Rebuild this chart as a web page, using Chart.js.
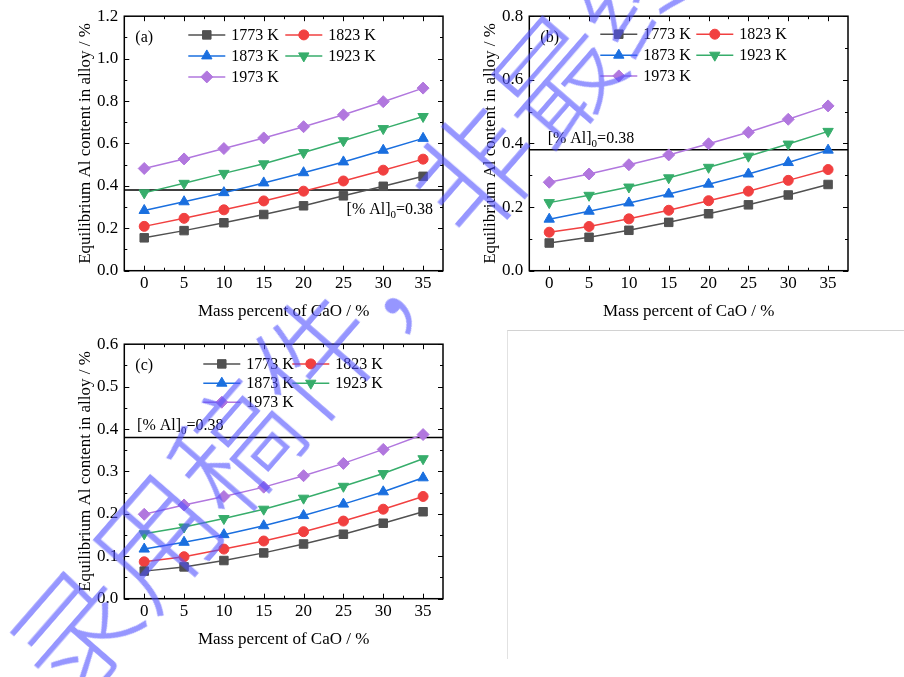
<!DOCTYPE html>
<html>
<head>
<meta charset="utf-8">
<script src="https://cdn.jsdelivr.net/npm/chart.js@4.4.0/dist/chart.umd.min.js"></script>
<style>
    html, body { margin: 0; padding: 0; background: #fff; }
    #page { position: relative; width: 904px; height: 677px; overflow: hidden; }
    .panel { position: absolute; width: 450px; height: 330px; }
    #blank { position: absolute; left: 507px; top: 330px; width: 400px; height: 328px;
             border-top: 1px solid #d2d2d2; border-left: 1px solid #e2e2e2; }
    #mark { position: absolute; left: 30px; top: 612px; font-family: "Noto Sans CJK SC";
            font-weight: 200; font-size: 122px; line-height: 1; white-space: nowrap;
            color: rgba(80, 80, 255, 0.6);
            transform-origin: 0 50%; transform: rotate(-49deg); pointer-events: none; }
</style>
</head>
<body>
<div id="page">
    <div class="panel" style="left:0;top:0"><canvas id="chartA"></canvas></div>
    <div class="panel" style="left:405px;top:0"><canvas id="chartB"></canvas></div>
    <div class="panel" style="left:0;top:328px"><canvas id="chartC"></canvas></div>
    <div id="blank"></div>
    <div id="mark">录用稿件，非最终版</div>
</div>
<script>
// x values and tick labels shared by the three panels
const caoPercent = [0, 5, 10, 15, 20, 25, 30, 35];
const temperatures = ["1773 K", "1823 K", "1873 K", "1923 K", "1973 K"];
const refLevel = 0.38;

// (a)
const aYTicks = [0, 0.2, 0.4, 0.6, 0.8, 1.0, 1.2];
const a1773 = [0.155, 0.189, 0.226, 0.265, 0.306, 0.353, 0.398, 0.445];
const a1823 = [0.209, 0.247, 0.287, 0.329, 0.375, 0.423, 0.474, 0.526];
const a1873 = [0.284, 0.325, 0.368, 0.414, 0.462, 0.513, 0.568, 0.624];
const a1923 = [0.367, 0.412, 0.459, 0.504, 0.557, 0.613, 0.670, 0.727];
const a1973 = [0.482, 0.527, 0.576, 0.626, 0.679, 0.735, 0.797, 0.861];

// (b)
const bYTicks = [0, 0.2, 0.4, 0.6, 0.8];
const b1773 = [0.087, 0.105, 0.127, 0.152, 0.179, 0.207, 0.238, 0.271];
const b1823 = [0.121, 0.139, 0.163, 0.190, 0.220, 0.250, 0.284, 0.318];
const b1873 = [0.162, 0.187, 0.213, 0.241, 0.272, 0.304, 0.340, 0.379];
const b1923 = [0.214, 0.237, 0.263, 0.292, 0.325, 0.360, 0.398, 0.438];
const b1973 = [0.278, 0.304, 0.333, 0.364, 0.399, 0.435, 0.476, 0.518];

// (c)
const cYTicks = [0, 0.1, 0.2, 0.3, 0.4, 0.5, 0.6];
const c1773 = [0.065, 0.075, 0.090, 0.108, 0.129, 0.152, 0.178, 0.205];
const c1823 = [0.087, 0.099, 0.117, 0.136, 0.158, 0.183, 0.211, 0.241];
const c1873 = [0.117, 0.133, 0.151, 0.172, 0.196, 0.223, 0.252, 0.285];
const c1923 = [0.153, 0.169, 0.189, 0.211, 0.237, 0.265, 0.295, 0.330];
const c1973 = [0.199, 0.221, 0.241, 0.263, 0.290, 0.319, 0.352, 0.387];

const seriesStyles = [
    { color: "#515151", pointStyle: "rect", radius: 6, rotation: 0 },
    { color: "#F14040", pointStyle: "circle", radius: 5, rotation: 0 },
    { color: "#1A6FDF", pointStyle: "triangle", radius: 6, rotation: 0 },
    { color: "#37AD6B", pointStyle: "triangle", radius: 6, rotation: 180 },
    { color: "#B177DE", pointStyle: "rectRot", radius: 6, rotation: 0 },
];

const FONT = "Liberation Serif";
Chart.defaults.font.family = FONT;
Chart.defaults.font.size = 17;
Chart.defaults.color = "#000";

function drawMarker(ctx, style, x, y) {
    ctx.fillStyle = style.color;
    ctx.strokeStyle = style.color;
    ctx.lineWidth = 1;
    if (Chart.helpers && Chart.helpers.drawPoint) {
        Chart.helpers.drawPoint(ctx, { pointStyle: style.pointStyle, rotation: style.rotation, radius: style.radius, borderWidth: 1 }, x, y);
        return;
    }
    ctx.beginPath();
    ctx.arc(x, y, style.radius, 0, Math.PI * 2);
    ctx.fill();
}

const framePlugin = {
    id: "frame",
    beforeDatasetsDraw(chart) {
        const { ctx, chartArea: ca, scales: { y } } = chart;
        const py = y.getPixelForValue(refLevel);
        ctx.save();
        ctx.strokeStyle = "#000";
        ctx.lineWidth = 1.5;
        ctx.beginPath();
        ctx.moveTo(ca.left, py);
        ctx.lineTo(ca.right, py);
        ctx.stroke();
        ctx.restore();
    },
    afterDraw(chart, args, opts) {
        const { ctx, chartArea: ca, scales: { x, y } } = chart;
        ctx.save();

        // inward ticks on all four sides
        ctx.strokeStyle = "#000";
        ctx.lineWidth = 1;
        const minorOf = (scale) => {
            const maj = scale.ticks.map((t) => t.value);
            const step = maj[1] - maj[0];
            return [maj[0] - step / 2, ...maj.map((v) => v + step / 2)]
                .filter((v) => v > scale.min + 1e-9 && v < scale.max - 1e-9);
        };
        ctx.beginPath();
        const xTicks = [
            ...x.ticks.map((t) => [t.value, 5]),
            ...minorOf(x).map((v) => [v, 3]),
        ];
        xTicks.forEach(([v, len]) => {
            const px = Math.round(x.getPixelForValue(v)) + 0.5;
            ctx.moveTo(px, ca.bottom); ctx.lineTo(px, ca.bottom - len);
            ctx.moveTo(px, ca.top); ctx.lineTo(px, ca.top + len);
        });
        const yTicks = [
            ...y.ticks.map((t) => [t.value, 5]),
            ...minorOf(y).map((v) => [v, 3]),
        ];
        yTicks.forEach(([v, len]) => {
            const py = Math.round(y.getPixelForValue(v)) + 0.5;
            ctx.moveTo(ca.left, py); ctx.lineTo(ca.left + len, py);
            ctx.moveTo(ca.right, py); ctx.lineTo(ca.right - len, py);
        });
        ctx.stroke();

        // frame
        ctx.lineWidth = 1.5;
        ctx.strokeRect(ca.left, ca.top, ca.right - ca.left, ca.bottom - ca.top);

        // panel letter
        ctx.fillStyle = "#000";
        ctx.font = "16px '" + FONT + "'";
        ctx.textBaseline = "middle";
        ctx.textAlign = "left";
        ctx.fillText(opts.letter, ca.left + 11, ca.top + 21.5);

        // [% Al]0=0.38
        let tx = x.getPixelForValue(opts.refLabel.x);
        const base = y.getPixelForValue(opts.refLabel.y) + 5.5;
        ctx.textBaseline = "alphabetic";
        const parts = [["[% Al]", 16, 0], ["0", 11, 4], ["=0.38", 16, 0]];
        parts.forEach(([s, size, dy]) => {
            ctx.font = size + "px '" + FONT + "'";
            ctx.fillText(s, tx, base + dy);
            tx += ctx.measureText(s).width;
        });

        // legend, two columns
        ctx.font = "16px '" + FONT + "'";
        ctx.textBaseline = "middle";
        chart.data.datasets.forEach((ds, i) => {
            const style = seriesStyles[i];
            const lx = ca.left + opts.legendCols[i % 2];
            const ly = ca.top + opts.legendRows[Math.floor(i / 2)];
            ctx.strokeStyle = style.color;
            ctx.lineWidth = 1.5;
            ctx.beginPath();
            ctx.moveTo(lx, ly);
            ctx.lineTo(lx + 37, ly);
            ctx.stroke();
            drawMarker(ctx, style, lx + 18.5, ly);
            ctx.fillStyle = "#000";
            ctx.fillText(ds.label, lx + 43, ly + 1);
        });
        ctx.restore();
    },
};

function makePanel(canvasId, series, yTicks, frameOpts) {
    new Chart(document.getElementById(canvasId), {
        type: "line",
        data: {
            datasets: series.map((vals, i) => ({
                label: temperatures[i],
                data: vals.map((v, j) => ({ x: caoPercent[j], y: v })),
                borderColor: seriesStyles[i].color,
                backgroundColor: seriesStyles[i].color,
                pointBorderColor: seriesStyles[i].color,
                pointBackgroundColor: seriesStyles[i].color,
                pointStyle: seriesStyles[i].pointStyle,
                pointRotation: seriesStyles[i].rotation,
                pointRadius: seriesStyles[i].radius,
                pointBorderWidth: 1,
                borderWidth: 1.5,
                tension: 0,
                fill: false,
            })),
        },
        options: {
            responsive: true,
            maintainAspectRatio: false,
            animation: false,
            events: [],
            layout: { padding: { left: 75.8, top: 14.3, right: 6.7, bottom: 7.8 } },
            plugins: {
                legend: { display: false },
                tooltip: { enabled: false },
                frame: frameOpts,
            },
            scales: {
                x: {
                    type: "linear",
                    min: -2.5,
                    max: 37.5,
                    grid: { display: false, drawTicks: false },
                    border: { display: false },
                    afterBuildTicks: (s) => { s.ticks = caoPercent.map((v) => ({ value: v })); },
                    afterFit: (s) => { s.height = 51.5; },
                    ticks: { padding: 3, maxRotation: 0, autoSkip: false },
                    title: { display: true, text: "Mass percent of CaO / %", padding: 0 },
                },
                y: {
                    min: yTicks[0],
                    max: yTicks[yTicks.length - 1],
                    grid: { display: false, drawTicks: false },
                    border: { display: false },
                    afterBuildTicks: (s) => { s.ticks = yTicks.map((v) => ({ value: v })); },
                    afterFit: (s) => { s.width = 48.5; },
                    ticks: { padding: 6, autoSkip: false, callback: (v) => Number(v).toFixed(1) },
                    title: { display: true, text: "Equilibrium Al content in alloy / %", padding: 0 },
                },
            },
        },
        plugins: [framePlugin],
    });
}

makePanel("chartA", [a1773, a1823, a1873, a1923, a1973], aYTicks, {
    letter: "(a)", refLabel: { x: 25.4, y: 0.292 }, legendCols: [64, 161], legendRows: [18.7, 39.7, 60.7],
});
makePanel("chartB", [b1773, b1823, b1873, b1923, b1973], bYTicks, {
    letter: "(b)", refLabel: { x: -0.2, y: 0.418 }, legendCols: [71, 167], legendRows: [18, 39, 59.7],
});
makePanel("chartC", [c1773, c1823, c1873, c1923, c1973], cYTicks, {
    letter: "(c)", refLabel: { x: -0.9, y: 0.41 }, legendCols: [79, 168], legendRows: [19.7, 39, 58],
});
</script>
</body>
</html>
